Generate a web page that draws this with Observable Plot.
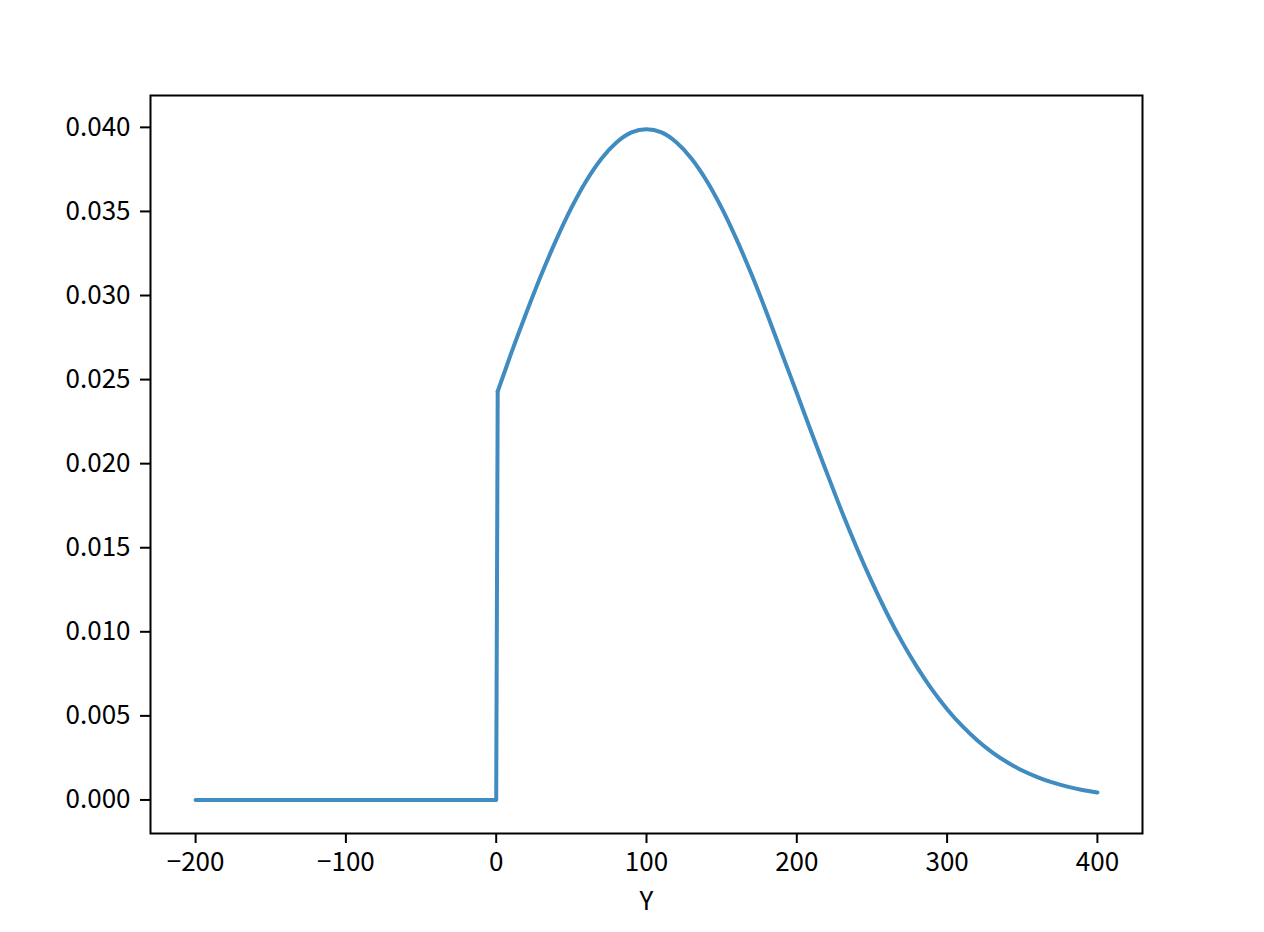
<!DOCTYPE html>
<html>
<head>
<meta charset="utf-8">
<script src="https://cdn.jsdelivr.net/npm/d3@7"></script>
<script src="https://cdn.jsdelivr.net/npm/@observablehq/plot@0.6"></script>
<style>
  html, body { margin: 0; padding: 0; background: #fff; }
</style>
</head>
<body>
<div id="chart"></div>
<script>
// flat part (zero density) and the jump at Y = 0
const flatX = [-200, 0, 1];
const flatY = [0, 0, 0.0243];
// density curve for Y > 0
const curveX = [1, 10, 20, 30, 40, 50, 60, 70, 80, 90, 100, 110, 120, 130, 140, 150, 160, 170, 180, 190, 200,
  210, 220, 230, 240, 250, 260, 270, 280, 290, 300, 310, 320, 330, 340, 350, 360, 370, 380, 390, 400];
const curveY = [0.0243, 0.02657, 0.02896, 0.03123, 0.03332, 0.03521, 0.03683, 0.03814, 0.03910, 0.03970, 0.03989,
  0.03970, 0.03910, 0.03814, 0.03683, 0.03521, 0.03332, 0.03123, 0.02896, 0.02657, 0.02420,
  0.02179, 0.01945, 0.01714, 0.01497, 0.01295, 0.01109, 0.00940, 0.00790, 0.00656, 0.00540,
  0.00440, 0.00355, 0.00283, 0.00224, 0.00175, 0.00136, 0.00104, 0.00079, 0.00059, 0.00044];
const xTicks = [-200, -100, 0, 100, 200, 300, 400];
const yTicks = [0, 0.005, 0.010, 0.015, 0.020, 0.025, 0.030, 0.035, 0.040];
const xLabel = "Y";

const flat = flatX.map((x, i) => ({x, y: flatY[i]}));
const curve = curveX.map((x, i) => ({x, y: curveY[i]}));

const chart = Plot.plot({
  width: 1264,
  height: 932,
  marginLeft: 150,
  marginRight: 122,
  marginTop: 95,
  marginBottom: 99,
  style: {fontFamily: "'Noto Sans CJK JP', sans-serif", fontSize: "26px", color: "#000", background: "#fff"},
  x: {domain: [-230, 430]},
  y: {domain: [-0.001995, 0.041895]},
  marks: [
    Plot.line(flat, {x: "x", y: "y", stroke: "#408bbf", strokeWidth: 4, strokeLinejoin: "round"}),
    Plot.line(curve, {x: "x", y: "y", stroke: "#408bbf", strokeWidth: 4, curve: "monotone-x"}),
    Plot.frame({stroke: "#000", strokeWidth: 2}),
    Plot.axisX({ticks: xTicks, tickSize: 10, tickPadding: 9, strokeWidth: 2, tickFormat: d3.format("d"),
      label: xLabel, labelAnchor: "center", labelArrow: "none", labelOffset: 76}),
    Plot.axisY({ticks: yTicks, tickSize: 10, tickPadding: 10, strokeWidth: 2, tickFormat: d3.format(".3f"), label: null})
  ]
});
document.getElementById("chart").appendChild(chart);
</script>
</body>
</html>
